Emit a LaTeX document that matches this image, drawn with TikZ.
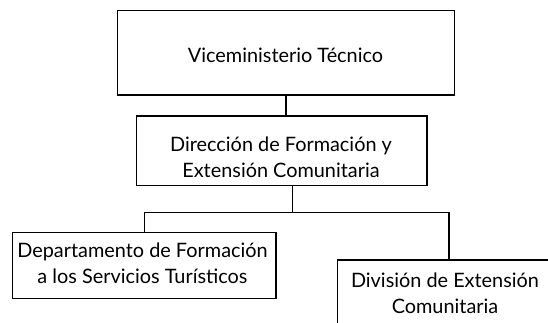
\documentclass[tikz,border=0pt]{standalone}
\usepackage{fontspec}
\setmainfont{Lato}
\begin{document}
\begin{tikzpicture}[x=0.75pt,y=-0.75pt,
  box/.style={draw=black,line width=1pt,inner sep=0pt,anchor=north west},
  lbl/.style={inner sep=0pt,align=center,anchor=base,font=\fontsize{14.9}{19.5}\selectfont},
  conn/.style={draw=black,line width=1pt}]
\useasboundingbox (0,0) rectangle (548,323);
\clip (0,0) rectangle (548,323);
% boxes
\node[box,minimum width=337*0.75pt,minimum height=84.3*0.75pt] (vt) at (116.7,10) {};
\node[box,minimum width=290.5*0.75pt,minimum height=69.5*0.75pt] (dfe) at (135.7,115.5) {};
\node[box,minimum width=263.6*0.75pt,minimum height=66*0.75pt] (dfst) at (11.7,231.7) {};
\node[box,minimum width=217*0.75pt,minimum height=100*0.75pt] (dec) at (336.5,259.5) {};
% texts (base anchor = baseline of last line)
\node[lbl] (tvt) at (285.5,63) {Viceministerio Técnico};
\node[lbl] (tdfe) at (281,178) {Dirección de Formación y\\Extensión Comunitaria};
\node[lbl] (tdfst) at (142.5,283.3) {Departamento de Formación\\a los Servicios Turísticos};
\node[lbl] (tdec) at (445,313) {División de Extensión\\Comunitaria};
% connectors
\coordinate (bus) at (292.7,212.5);
\coordinate (rdrop) at (449,212.5);
\draw[conn] (vt.south) -- (vt.south |- dfe.north);
\draw[conn] (dfe.south -| bus) -- (bus);
\draw[conn] (dfst.north) |- (rdrop) -- (rdrop |- dec.north);
\end{tikzpicture}
\end{document}
